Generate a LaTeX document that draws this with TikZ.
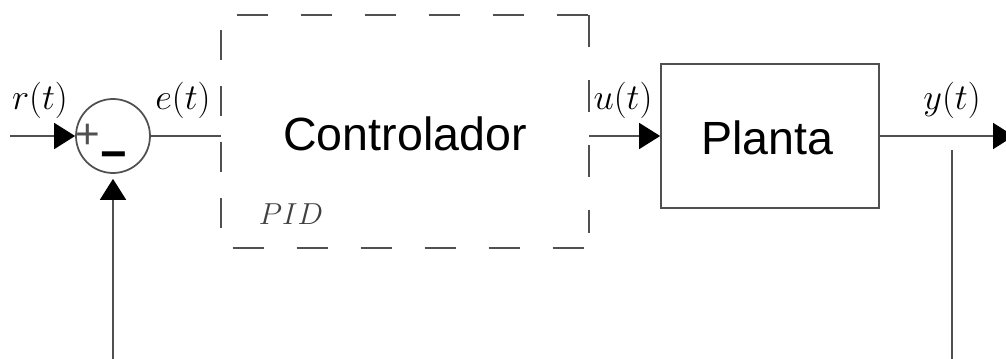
\documentclass[tikz,border=0pt]{standalone}
\usepackage{fontspec}
\setmainfont{Liberation Sans}
\usetikzlibrary{arrows.meta,calc}
\definecolor{linegray}{HTML}{505050}
\definecolor{pidgray}{HTML}{404040}
\tikzset{
  conn/.style={draw=linegray, line width=0.035cm},
  arr/.style={conn, -{Triangle[length=0.42cm,width=0.52cm,color=black]}},
  dashedge/.style={draw=linegray, line width=0.035cm},
  blocktext/.style={font=\fontsize{26.5}{30}\selectfont},
  siglabel/.style={font=\fontsize{21}{24}\selectfont, inner sep=0pt},
  signtext/.style={font=\fontsize{24}{26}\selectfont, inner sep=0pt, text=linegray},
}
\begin{document}
\begin{tikzpicture}[x=0.02cm, y=-0.02cm]
\useasboundingbox (0,0) rectangle (1006,358);
% summing junction
\node[circle, draw=linegray, line width=0.035cm, minimum size=1.48cm, inner sep=0pt] (sum) at (113,136) {};
\node[signtext] (plus) at (88,136) {+};
\node[signtext, font=\fontsize{26}{28}\selectfont\bfseries, text=black] (minus) at (114,161) {−};
% controller (dashed)
\node[minimum width=7.36cm, minimum height=4.66cm, inner sep=0pt] (ctrl) at (405,131.5) {};
\draw[dashedge, dash pattern=on 0.62cm off 0.66cm] ($(ctrl.north west)+(16,0)$) -- (ctrl.north east);
\draw[dashedge, dash pattern=on 0.62cm off 0.66cm] ($(ctrl.south west)+(12,0)$) -- (ctrl.south east);
\draw[dashedge, dash pattern=on 0.6cm off 0.52cm] ($(ctrl.north west)+(0,15)$) -- ($(ctrl.south west)+(0,-20)$);
\draw[dashedge, dash pattern=on 0.64cm off 0.66cm] (ctrl.north east) -- ($(ctrl.south east)+(0,-15)$);
\node[blocktext, anchor=base] (ctrltext) at (405,150) {Controlador};
\node[font=\fontsize{18}{20}\selectfont, text=pidgray, inner sep=0pt] (pid) at (291,214) {$PID$};
% plant
\node[draw=linegray, line width=0.035cm, minimum width=4.36cm, minimum height=2.88cm, inner sep=0pt] (plant) at (770,136) {};
\node[blocktext, anchor=base] (planttext) at (767,154) {Planta};
% coordinates
\coordinate (in) at (10,136);
\coordinate (out) at (1014,136);
\coordinate (fbtop) at (952,150);
\coordinate (fbbot) at (952,360);
\coordinate (fbin) at (113,360);
% connectors
\draw[arr] (in) -- (sum.west);
\draw[conn] (sum.east) -- (sum.east -| ctrl.west);
\draw[arr] (ctrl.east |- plant.west) -- (plant.west);
\draw[arr] (plant.east) -- (out);
\draw[conn] (fbtop) -- (fbbot);
\draw[arr, shorten >=0.1cm] (fbin) -- (sum.south);
% labels
\node[siglabel] (rl) at (40,100) {$r(t)$};
\node[siglabel] (el) at (183,100) {$e(t)$};
\node[siglabel] (ul) at (623,100) {$u(t)$};
\node[siglabel] (yl) at (952,100) {$y(t)$};
\end{tikzpicture}
\end{document}
